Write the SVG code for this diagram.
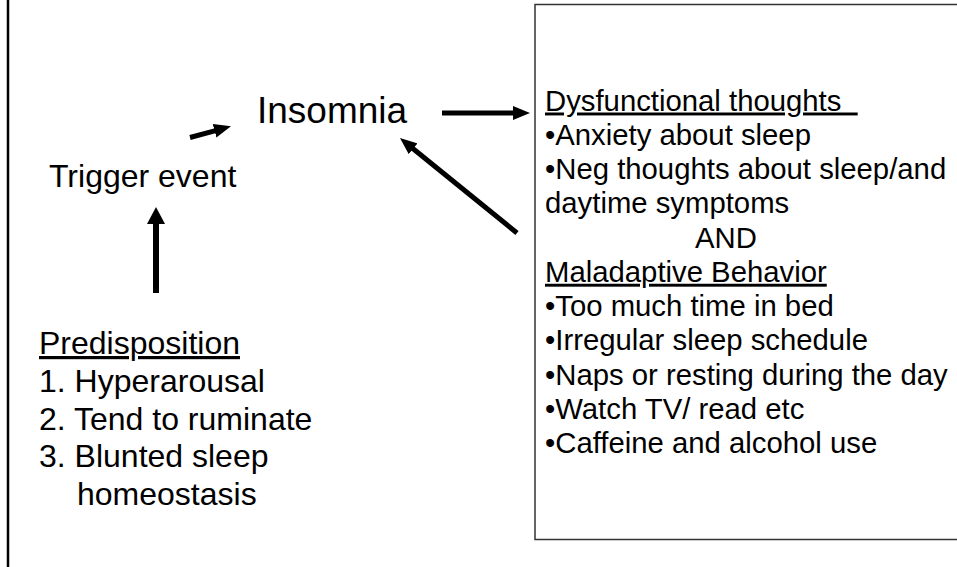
<svg xmlns="http://www.w3.org/2000/svg" width="957" height="567" viewBox="0 0 957 567">
<style>
text{font-family:"Liberation Sans",Arial,Helvetica,sans-serif;fill:#000}
.big{font-size:37px}
.mid{font-size:32px}
.box{font-size:29.3px}
.u{text-decoration:underline}
.arr{stroke:#000;fill:none;stroke-linecap:butt}
</style>
<defs>
<marker id="ah" markerUnits="userSpaceOnUse" viewBox="0 0 17 14" markerWidth="17" markerHeight="14" refX="2" refY="7" orient="auto">
<path d="M0,0 L17,7 L0,14 z" fill="#000"/>
</marker>
<marker id="ahL" markerUnits="userSpaceOnUse" viewBox="0 0 17 18" markerWidth="17" markerHeight="18" refX="2" refY="9" orient="auto">
<path d="M0,0 L17,9 L0,18 z" fill="#000"/>
</marker>
</defs>
<rect width="957" height="567" fill="#fff"/>
<line x1="8" y1="0" x2="8" y2="567" stroke="#000" stroke-width="2.5"/>

<g id="insomnia"><text class="big" x="257" y="123">Insomnia</text></g>
<g id="trigger"><text class="mid" x="49" y="187">Trigger event</text></g>
<g id="predisposition">
<text class="mid u" x="39" y="354">Predisposition</text>
<text class="mid" x="39" y="392">1. Hyperarousal</text>
<text class="mid" x="39" y="429.5">2. Tend to ruminate</text>
<text class="mid" x="39" y="467">3. Blunted sleep</text>
<text class="mid" x="77" y="504.5">homeostasis</text>
</g>
<g id="perpetuating">
<rect x="535" y="4.5" width="440" height="535" fill="none" stroke="#333" stroke-width="1.5"/>
<text class="box u" x="545" y="110.5" xml:space="preserve">Dysfunctional thoughts  </text>
<text class="box" x="545" y="144.75">•Anxiety about sleep</text>
<text class="box" x="545" y="179">•Neg thoughts about sleep/and</text>
<text class="box" x="545" y="213.25">daytime symptoms</text>
<text class="box" x="695" y="247.5">AND</text>
<text class="box u" x="545" y="281.75">Maladaptive Behavior</text>
<text class="box" x="545" y="316">•Too much time in bed</text>
<text class="box" x="545" y="350.25">•Irregular sleep schedule</text>
<text class="box" x="545" y="384.5">•Naps or resting during the day</text>
<text class="box" x="545" y="418.75">•Watch TV/ read etc</text>
<text class="box" x="545" y="453">•Caffeine and alcohol use</text>
</g>
<g id="connectors">
<line class="arr" x1="156" y1="293" x2="156" y2="222" stroke-width="6" marker-end="url(#ahL)"/>
<line class="arr" x1="190" y1="137.5" x2="216.5" y2="130.3" stroke-width="5" marker-end="url(#ah)"/>
<line class="arr" x1="442" y1="113" x2="515" y2="113" stroke-width="5" marker-end="url(#ah)"/>
<line class="arr" x1="517" y1="233" x2="411.6" y2="147.5" stroke-width="5" marker-end="url(#ah)"/>
</g>
</svg>
